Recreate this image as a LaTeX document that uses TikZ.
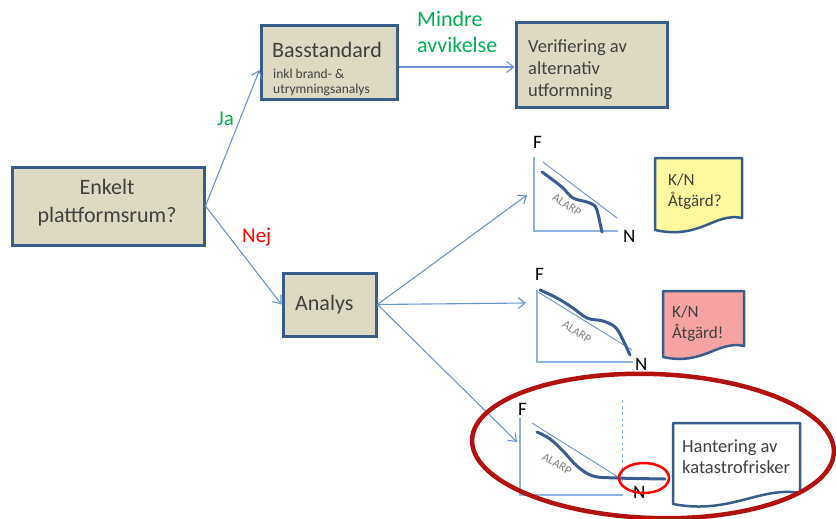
\documentclass[tikz,border=0pt]{standalone}
\usepackage{fontspec}
\setmainfont{Carlito}
\usetikzlibrary{arrows.meta,calc}

\definecolor{boxfill}{HTML}{DDD9C3}
\definecolor{boxline}{HTML}{385D8A}
\definecolor{linkblue}{HTML}{6A94CC}
\definecolor{axisblue}{HTML}{8DB3E2}
\definecolor{curveblue}{HTML}{3A5D91}
\definecolor{txtgray}{HTML}{404040}
\definecolor{yesgreen}{HTML}{00B050}
\definecolor{nored}{HTML}{FF0000}
\definecolor{ringred}{HTML}{B3110F}
\definecolor{notey}{HTML}{FFF9A0}
\definecolor{notepink}{HTML}{F6A3A3}

\begin{document}
\begin{tikzpicture}[x=1pt,y=-1pt,
  flowbox/.style={draw=boxline, line width=3pt, fill=boxfill, inner sep=0pt},
  boxtext/.style={anchor=base west, inner sep=0pt, text=txtgray, align=left},
  link/.style={draw=linkblue, line width=1.1pt, -{Straight Barb[length=7pt,width=11pt]}},
  axisline/.style={draw=axisblue, line width=1.3pt},
  guide/.style={draw=linkblue, line width=0.9pt},
  riskcurve/.style={draw=curveblue, line width=3pt, line cap=round},
  alarp/.style={text=gray, font=\fontsize{12}{12}\selectfont, inner sep=0pt},
  axlabel/.style={anchor=base west, font=\fontsize{19}{19}\selectfont, inner sep=0pt},
  docshape/.style={draw=boxline, line width=2.5pt, line join=round},
  branch/.style={anchor=base west, inner sep=0pt, font=\fontsize{21}{27}\selectfont, align=left},
]
\useasboundingbox (0,0) rectangle (836,519);

% decision boxes (multi-line labels are placed by the baseline of their last line)
\node[flowbox, minimum width=192pt, minimum height=78pt] (enk) at (108,206) {};
\node[boxtext, anchor=base, align=center, font=\fontsize{22}{28}\selectfont] (enktxt) at (107,222) {Enkelt\\plattformsrum?};

\node[flowbox, minimum width=136pt, minimum height=74pt] (bas) at (329,63) {};
\node[boxtext, font=\fontsize{22}{22}\selectfont] (bastitle) at (272,58) {Basstandard};
\node[boxtext, font=\fontsize{13.5}{14}\selectfont] (basnotea) at (273,78.5) {inkl brand- \&};
\node[boxtext, font=\fontsize{13.5}{14}\selectfont] (basnoteb) at (273,93.5) {utrymningsanalys};

\node[flowbox, minimum width=151pt, minimum height=85pt] (ver) at (591.5,65.5) {};
\node[boxtext, font=\fontsize{18.5}{22}\selectfont] (vertxt) at (528,96) {Verifiering av\\alternativ\\utformning};

\node[flowbox, minimum width=93pt, minimum height=63pt] (ana) at (329.5,304.5) {};
\node[boxtext, font=\fontsize{22}{22}\selectfont] (anatxt) at (295,310) {Analys};

% branch labels
\node[branch, text=yesgreen] (ja) at (217,125) {Ja};
\node[branch, text=nored] (nej) at (242,242) {Nej};
\node[branch, text=yesgreen, font=\fontsize{22}{27}\selectfont] (mindre) at (417,53) {Mindre\\avvikelse};

% connectors
\coordinate (basin) at ($(bas.west)+(0,7)$);
\coordinate (basout) at ($(bas.east)+(0,4)$);
\coordinate (fn1in) at (527,195);
\coordinate (fn2in) at (526,303);
\coordinate (fn3in) at (517,442);
\draw[link] (enk.east) -- (basin);
\draw[link] (enk.east) -- (ana.west);
\draw[link] (basout) -- (basout -| ver.west);
\draw[link] (ana.east) -- (fn1in);
\draw[link] (ana.east) -- (fn2in);
\draw[link] (ana.east) -- (fn3in);

% F-N chart 1
\draw[axisline] (534,157) -- (534,231) -- (618,231);
\draw[guide] (543,162) -- (617,218);
\draw[riskcurve] plot[smooth, tension=0.6] coordinates {(542,172) (553,180) (563,188) (573,198) (587,202) (595,206) (598,214) (600,223) (602,232)};
\node[alarp, rotate=-33] (alarp1) at (567,205) {ALARP};
\node[axlabel] (f1) at (533,148) {F};
\node[axlabel] (n1) at (623,242) {N};

% F-N chart 2
\draw[axisline] (537,290) -- (537,362) -- (633,362);
\draw[guide] (538,292) -- (632,350);
\draw[riskcurve] plot[smooth, tension=0.6] coordinates {(540,290) (557,298) (573,308) (587,318) (603,321) (615,327) (622,338) (630,355)};
\node[alarp, rotate=-33] (alarp2) at (577,332) {ALARP};
\node[axlabel] (f2) at (535,280) {F};
\node[axlabel] (n2) at (635,370) {N};

% F-N chart 3
\draw[axisline] (520,418) -- (520,495) -- (623,495);
\draw[axisline, dashed, line width=1pt] (622,400) -- (622,482);
\draw[guide] (532,423) -- (618,477);
\draw[riskcurve] plot[smooth, tension=0.6] coordinates {(537,432) (550,439) (563,451) (577,466) (593,476) (617,478) (665,479)};
\node[alarp, rotate=-30] (alarp3) at (557,464) {ALARP};
\node[axlabel] (f3) at (518,415) {F};
\node[axlabel] (n3) at (633,498) {N};

% outcome documents
\draw[docshape, fill=notey] (655,158) -- (742,158) -- (742,218) .. controls (715,212) and (700,240) .. (655,230) -- cycle;
\node[boxtext, font=\fontsize{17}{21}\selectfont] (doc1) at (668,206) {K/N\\Åtgärd?};

\draw[docshape, fill=notepink] (663,291) -- (744,291) -- (744,346) .. controls (718,340) and (703,366) .. (663,357) -- cycle;
\node[boxtext, font=\fontsize{17}{21}\selectfont] (doc2) at (672,338) {K/N\\Åtgärd!};

\draw[docshape, fill=white] (673,423) -- (800,423) -- (800,493) .. controls (760,486) and (730,515) .. (673,504) -- cycle;
\node[boxtext, font=\fontsize{18.5}{21}\selectfont] (doc3) at (682,473) {Hantering av\\katastrofrisker};

% highlights
\draw[nored, line width=2.5pt] (644,478) ellipse [x radius=25, y radius=15];
\draw[ringred, line width=4.5pt, rotate around={-2:(653,446)}] (653,446) ellipse [x radius=181, y radius=72];
\end{tikzpicture}
\end{document}
